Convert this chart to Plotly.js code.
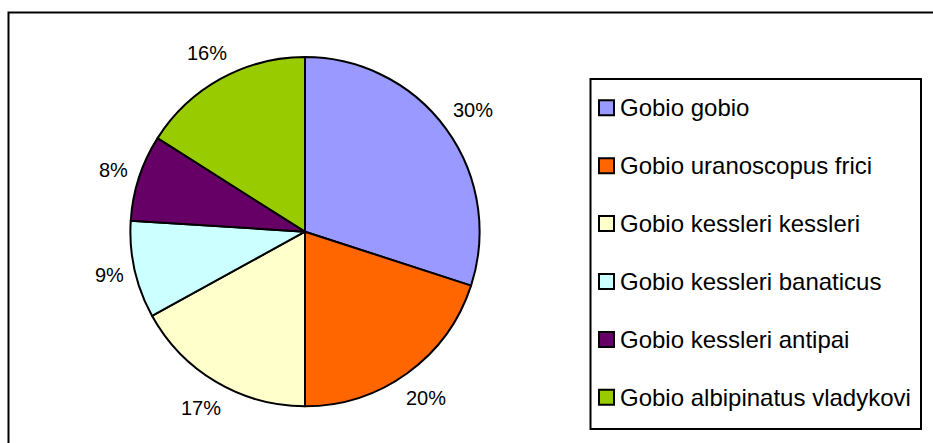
<!DOCTYPE html>
<html>
<head>
<meta charset="utf-8">
<script src="https://cdn.plot.ly/plotly-3.0.1.min.js"></script>
<style>
html,body{margin:0;padding:0;background:#fff;}
#chart{width:933px;height:443px;}
</style>
</head>
<body>
<div id="chart"></div>
<script>
var species = ["Gobio gobio", "Gobio uranoscopus frici", "Gobio kessleri kessleri", "Gobio kessleri banaticus", "Gobio kessleri antipai", "Gobio albipinatus vladykovi"];
var shares = [30, 20, 17, 9, 8, 16];
var sliceColors = ["#9999FF", "#FF6600", "#FFFFCC", "#CCFFFF", "#660066", "#99CC00"];

var W = 933, H = 443;
function px(x){ return x / W; }
function py(y){ return 1 - y / H; }

var FONT = "Arial, 'Liberation Sans', sans-serif";

var cx = 305, cy = 231.7, r = 174.6;

var trace = {
  type: "pie",
  labels: species,
  values: shares,
  sort: false,
  direction: "clockwise",
  rotation: 0,
  textinfo: "none",
  marker: {colors: sliceColors, line: {color: "#000", width: 2}},
  showlegend: false,
  hoverinfo: "label+percent",
  domain: {x: [px(cx - r), px(cx + r)], y: [py(cy + r), py(cy - r)]}
};

var shapes = [
  {type: "rect", xref: "paper", yref: "paper", x0: px(8.5), x1: 1.02, y0: -0.02, y1: py(12.5), line: {color: "#000", width: 2}, fillcolor: "rgba(0,0,0,0)"},
  {type: "rect", xref: "paper", yref: "paper", x0: px(590.5), x1: px(921), y0: py(429), y1: py(79), line: {color: "#000", width: 2}, fillcolor: "rgba(0,0,0,0)"}
];
var annotations = [];

// percentage labels placed just outside each slice along its mid-angle (Excel style)
var total = shares.reduce(function(a, b){ return a + b; }, 0);
var cum = 0, LBL = 20, gap = 11;
for (var k = 0; k < shares.length; k++) {
  var mid = (cum + shares[k] / 2) / total * 2 * Math.PI;
  cum += shares[k];
  var txt = Math.round(shares[k] / total * 100) + "%";
  var hw = txt.length * LBL * 0.33, hh = LBL * 0.5;
  var s = Math.sin(mid), c = Math.cos(mid);
  var d = r + gap + Math.abs(s) * hw + Math.abs(c) * hh;
  annotations.push({xref: "paper", yref: "paper",
    x: px(cx + d * s), y: py(cy - d * c),
    xanchor: "center", yanchor: "middle", showarrow: false,
    text: txt, font: {family: FONT, size: LBL, color: "#000"}});
}

var rowY0 = 107.8, rowStep = 57.9;
for (var i = 0; i < species.length; i++) {
  var yc = rowY0 + i * rowStep;
  shapes.push({type: "rect", xref: "paper", yref: "paper",
    x0: px(599), x1: px(614), y0: py(yc + 7.5), y1: py(yc - 7.5),
    line: {color: "#000", width: 2}, fillcolor: sliceColors[i]});
  annotations.push({xref: "paper", yref: "paper", x: px(618), y: py(yc),
    xanchor: "left", yanchor: "middle", showarrow: false,
    text: species[i], font: {family: FONT, size: 24, color: "#000"}});
}

var layout = {
  width: W, height: H,
  margin: {l: 0, r: 0, t: 0, b: 0},
  paper_bgcolor: "#fff",
  plot_bgcolor: "#fff",
  font: {family: FONT, color: "#000"},
  showlegend: false,
  shapes: shapes,
  annotations: annotations
};

Plotly.newPlot("chart", [trace], layout, {displayModeBar: false, staticPlot: true});
</script>
</body>
</html>
